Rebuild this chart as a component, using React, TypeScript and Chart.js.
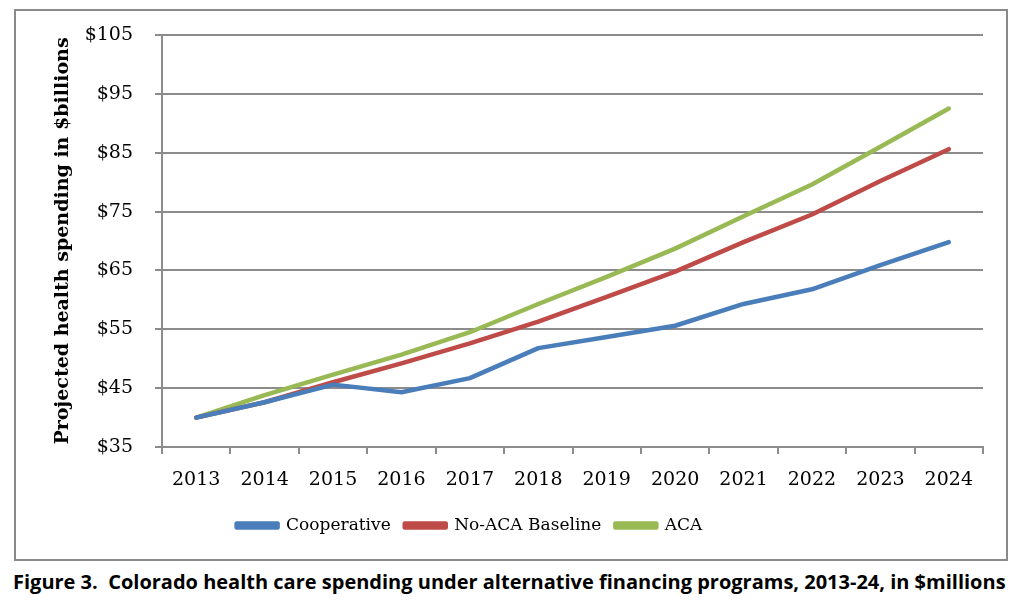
import { useEffect, useRef } from "react";
import { Chart, registerables } from "chart.js";

Chart.register(...registerables);

const years = ["2013", "2014", "2015", "2016", "2017", "2018", "2019", "2020", "2021", "2022", "2023", "2024"];
const cooperative = [40, 42.6, 45.6, 44.3, 46.7, 51.8, 53.7, 55.6, 59.3, 61.8, 65.9, 69.8];
const noAcaBaseline = [40, 42.6, 46.0, 49.2, 52.6, 56.3, 60.5, 64.8, 69.8, 74.5, 80.2, 85.6];
const aca = [40, 43.8, 47.3, 50.7, 54.5, 59.3, 63.9, 68.7, 74.2, 79.6, 86.0, 92.5];
const seriesNames = ["Cooperative", "No-ACA Baseline", "ACA"];
const seriesColors = ["#4a7ebb", "#be4b48", "#98b954"];
const yMin = 35;
const yMax = 105;
const yStep = 10;
const yTitle = "Projected health spending in $billions";
const caption = "Figure 3.  Colorado health care spending under alternative financing programs, 2013-24, in $millions";

const GRID = "#8c8c8c";
const SERIF = "'DejaVu Serif', serif";

export default function App() {
  const canvasRef = useRef<HTMLCanvasElement | null>(null);

  useEffect(() => {
    const canvas = canvasRef.current;
    if (!canvas) return;
    const values = [cooperative, noAcaBaseline, aca];
    const legendShift = {
      id: "legendShift",
      afterLayout(chart: any) {
        const l = chart.legend;
        if (l) {
          l.left -= 30;
          l.right -= 30;
        }
      },
    };
    const chart = new Chart(canvas, {
      type: "line",
      data: {
        labels: years,
        datasets: seriesNames.map((name, i) => ({
          label: name,
          data: values[i],
          borderColor: seriesColors[i],
          backgroundColor: seriesColors[i],
          borderWidth: 4.5,
          borderCapStyle: "round" as const,
          borderJoinStyle: "round" as const,
          pointRadius: 0,
          pointHoverRadius: 0,
          tension: 0,
          fill: false,
        })),
      },
      options: {
        animation: false,
        responsive: false,
        maintainAspectRatio: false,
        layout: { padding: { left: 0, right: 23, top: 24, bottom: 15 } },
        plugins: {
          tooltip: { enabled: false },
          legend: {
            position: "bottom",
            labels: {
              boxWidth: 41,
              boxHeight: 4,
              padding: 14,
              color: "#000",
              font: { family: SERIF, size: 17 },
            },
          },
        },
        scales: {
          x: {
            type: "category",
            offset: true,
            grid: {
              offset: true,
              drawOnChartArea: false,
              drawTicks: true,
              tickLength: 7,
              color: GRID,
              lineWidth: 2,
            },
            border: { color: GRID, width: 2 },
            ticks: {
              color: "#000",
              padding: 15,
              maxRotation: 0,
              font: { family: SERIF, size: 19 },
            },
            afterFit(scale: any) {
              scale.height = 56;
            },
          },
          y: {
            min: yMin,
            max: yMax,
            grid: { color: GRID, lineWidth: 2, tickLength: 7 },
            border: { color: GRID, width: 2 },
            ticks: {
              stepSize: yStep,
              color: "#000",
              padding: 22,
              font: { family: SERIF, size: 19 },
              callback: (v: any) => "$" + v,
            },
            title: {
              display: true,
              text: yTitle,
              color: "#000",
              font: { family: SERIF, size: 19, weight: "bold" },
              padding: { top: 36, bottom: 0 },
            },
            afterFit(scale: any) {
              scale.width = 146;
              scale.paddingTop = 0;
              scale.paddingBottom = 0;
            },
          },
        },
      },
      plugins: [legendShift],
    });
    return () => chart.destroy();
  }, []);

  return (
    <div style={{ position: "fixed", left: 0, top: 0, width: 1024, height: 602, background: "#fff" }}>
      <div
        style={{
          position: "absolute",
          left: 14,
          top: 9,
          width: 990,
          height: 548,
          border: "2px solid #8a8a8a",
        }}
      >
        <canvas ref={canvasRef} width={990} height={548} style={{ display: "block", width: 990, height: 548 }} />
      </div>
      <div
        style={{
          position: "absolute",
          left: 13,
          top: 570,
          whiteSpace: "pre",
          fontFamily: "'Open Sans', sans-serif",
          fontWeight: "bold",
          fontSize: 20,
          lineHeight: "23px",
          color: "#000",
        }}
      >
        {caption}
      </div>
    </div>
  );
}
